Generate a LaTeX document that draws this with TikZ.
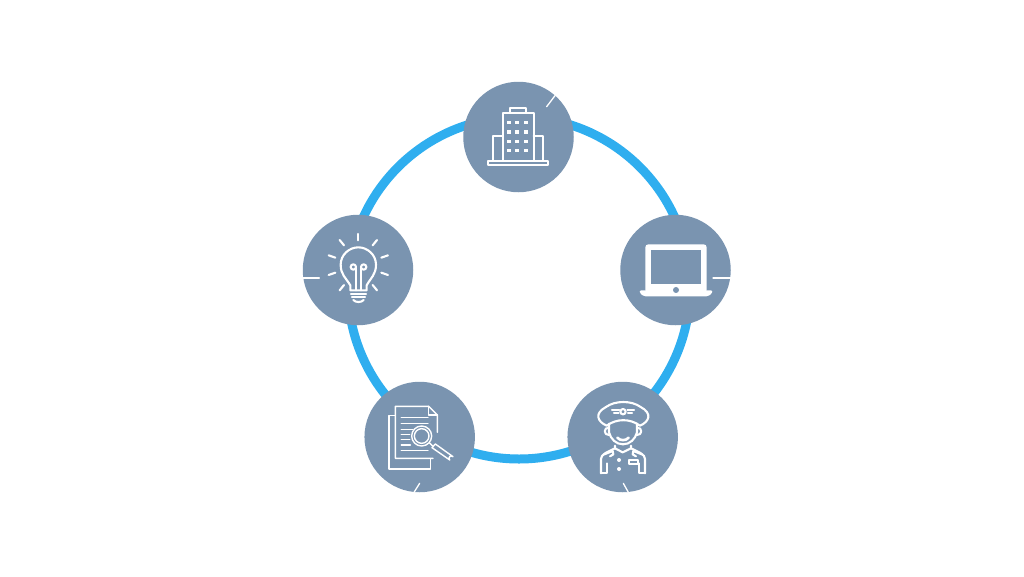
\documentclass[tikz,border=0pt]{standalone}
\usepackage{xcolor}
\usepackage{tikz}
\definecolor{slate}{HTML}{7A94B0}
\definecolor{ringblue}{HTML}{2FAEEF}
\tikzset{
	disc/.style={circle,fill=slate,inner sep=0pt,minimum size=110.5pt},
	ring/.style={circle,draw=ringblue,line width=9pt,inner sep=0pt,minimum size=342pt},
	zoomed/.style={x=0.3333pt,y=-0.3333pt,draw=white,line cap=round,line join=round,line width=2.2pt},
	tick/.style={white,line width=1.3pt}
}
\begin{document}
\begin{tikzpicture}[x=1pt,y=-1pt]
		\useasboundingbox (0,0) rectangle (1024,576);
		\node[ring] (ring) at (519,288) {};
		\node[disc] (building) at (518.5,137) {};
		\node[disc] (laptop) at (675.5,270) {};
		\node[disc] (pilot) at (622.7,437) {};
		\node[disc] (docs) at (419.7,437) {};
		\node[disc] (bulb) at (358,270) {};
		%
		% building
		\begin{scope}[shift={(455,75)},zoomed]
		\draw (100,257) rectangle (280,271);
		\draw (143,257) -- (143,113) -- (236,113) -- (236,257);
		\draw (165,113) -- (165,98) -- (214,98) -- (214,113);
		\draw (143,183) -- (113,183) -- (113,257);
		\draw (236,183) -- (265,183) -- (265,257);
		\foreach \wx in {163,187,213}
			\foreach \wy in {143,171,199,227}
				\fill[white] (\wx-6,\wy-5) rectangle (\wx+6,\wy+5);
		\draw[tick] (275,95) -- (300,62);
		\end{scope}
		%
		% laptop
		\begin{scope}[shift={(612,208)},zoomed]
		\fill[white,rounded corners=3pt] (100,109) rectangle (284,255);
		\fill[slate] (118,127) rectangle (267,228);
		\fill[white,rounded corners=1.5pt] (82,247) -- (302,247) -- (300,256) -- (288,265) -- (96,265) -- (84,256) -- cycle;
		\fill[slate] (192,246) circle (9);
		\draw[tick] (303,210) -- (356,210);
		\end{scope}
		%
		% pilot
		\begin{scope}[shift={(590,395)},zoomed,line width=2.1pt]
		\draw (50,92) .. controls (22,80) and (12,55) .. (48,36) .. controls (75,16) and (125,16) .. (152,36) .. controls (188,55) and (178,80) .. (150,92) .. controls (120,70) and (80,70) .. (50,92) -- cycle;
		\draw (66,45) -- (88,45) (112,45) -- (132,45) (72,54) -- (86,54) (114,54) -- (126,54);
		\draw (99,50) circle (8);
		\draw (57,86) -- (57,112) .. controls (62,132) and (78,148) .. (99,148) .. controls (120,148) and (136,132) .. (141,112) -- (141,86);
		\draw (57,98) .. controls (40,96) and (40,122) .. (58,120);
		\draw (141,98) .. controls (158,96) and (158,122) .. (140,120);
		\draw[line width=2.6pt] (82,128) .. controls (90,138) and (108,138) .. (116,128);
		\draw (33,235) -- (33,192) .. controls (33,178) and (50,172) .. (75,160);
		\draw (165,235) -- (165,192) .. controls (165,178) and (148,172) .. (123,160);
		\draw (75,152) -- (75,160) -- (98,172) -- (123,160) -- (123,152);
		\draw (43,178) -- (68,168) -- (70,178) -- (60,184);
		\draw (155,178) -- (130,168) -- (128,178) -- (138,184);
		\draw (33,235) -- (50,235) -- (50,205);
		\draw (165,235) -- (148,235) -- (148,205);
		\draw (118,195) rectangle (145,208);
		\fill[white] (87,195) circle (6);
		\fill[white] (87,222) circle (6);
		\end{scope}
		\begin{scope}[shift={(560,375)},zoomed]
		\draw[tick] (190,325) -- (205,352);
		\end{scope}
		%
		% documents
		\begin{scope}[shift={(358,375)},zoomed,line width=1.4pt]
		\draw (110,122) -- (93,122) -- (93,282) -- (217,282) -- (217,252);
		\draw (225,250) -- (112,250) -- (112,94) -- (212,94) -- (238,120) -- (238,172);
		\draw (212,94) -- (212,120) -- (238,120);
		\foreach \ly/\lx in {127/210,145/210,163/165,178/155,194/155,210/157,227/210}
			\draw (130,\ly) -- (\lx,\ly);
		\fill[slate] (191,183) circle (30);
		\draw (191,183) circle (30);
		\draw (191,183) circle (22);
		\draw (214,203) -- (224,213);
		\draw (232,207) -- (285,245) arc[start angle=-45,end angle=-225,radius=7] -- (222,218) -- cycle;
		\draw[tick] (185,325) -- (168,352);
		\end{scope}
		%
		% bulb
		\begin{scope}[shift={(296,208)},zoomed,line width=2.1pt]
		\draw (163,247) -- (163,232) .. controls (150,210) and (134,200) .. (134,170) .. controls (134,140) and (160,118) .. (187,118) .. controls (214,118) and (240,140) .. (240,170) .. controls (240,200) and (224,210) .. (212,232) -- (212,247) -- cycle;
		\draw (165,258) -- (210,258);
		\draw (168,268) -- (207,268);
		\draw (172,276) .. controls (178,284) and (197,284) .. (203,276);
		\draw (180,247) -- (180,178);
		\draw (195,247) -- (195,178);
		\draw (172,177) circle (8);
		\draw (203,177) circle (8);
		\foreach \ax/\ay/\bx/\by in {187/78/187/97,131/96/144/112,243/96/230/112,98/142/118/149,276/142/256/149,98/201/118/194,276/201/256/194,131/247/144/231,243/247/230/231}
			\draw (\ax,\ay) -- (\bx,\by);
		\draw[tick] (22,210) -- (70,210);
		\end{scope}
	\end{tikzpicture}
\end{document}
